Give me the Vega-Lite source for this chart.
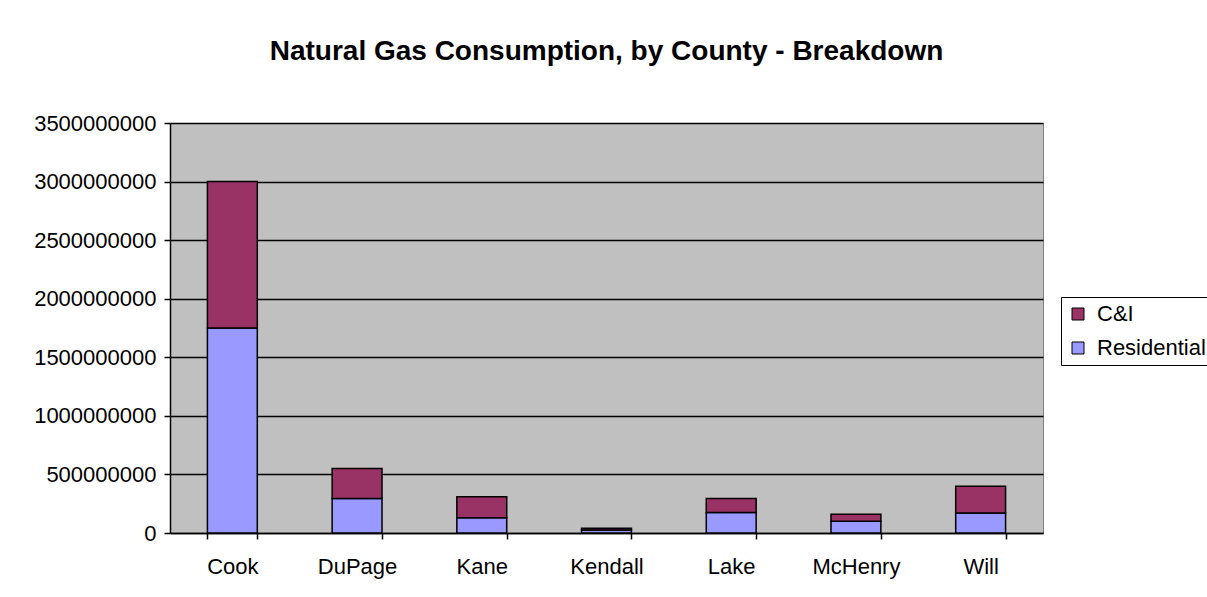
{
  "$schema": "https://vega.github.io/schema/vega-lite/v6.json",
  "autosize": "none",
  "width": 873,
  "height": 410,
  "padding": {"left": 170, "top": 123, "right": 164, "bottom": 64},
  "background": "white",
  "title": {
    "text": "Natural Gas Consumption, by County - Breakdown",
    "font": "Liberation Sans",
    "fontSize": 28,
    "fontWeight": "bold",
    "color": "black",
    "anchor": "middle",
    "frame": "group",
    "offset": 46
  },
  "data": {
    "values": [
      {"county": "Cook", "type": "Residential", "value": 1750000000},
      {"county": "Cook", "type": "C&I", "value": 1250000000},
      {"county": "DuPage", "type": "Residential", "value": 295000000},
      {"county": "DuPage", "type": "C&I", "value": 255000000},
      {"county": "Kane", "type": "Residential", "value": 130000000},
      {"county": "Kane", "type": "C&I", "value": 180000000},
      {"county": "Kendall", "type": "Residential", "value": 25000000},
      {"county": "Kendall", "type": "C&I", "value": 15000000},
      {"county": "Lake", "type": "Residential", "value": 175000000},
      {"county": "Lake", "type": "C&I", "value": 120000000},
      {"county": "McHenry", "type": "Residential", "value": 100000000},
      {"county": "McHenry", "type": "C&I", "value": 60000000},
      {"county": "Will", "type": "Residential", "value": 170000000},
      {"county": "Will", "type": "C&I", "value": 230000000}
    ]
  },
  "mark": {"type": "bar", "stroke": "black", "strokeWidth": 1.5},
  "encoding": {
    "x": {
      "field": "county",
      "type": "nominal",
      "sort": null,
      "scale": {"paddingInner": 0.6, "paddingOuter": 0.3},
      "axis": {
        "title": null,
        "labelAngle": 0,
        "labelFont": "Liberation Sans",
        "labelFontSize": 22,
        "labelColor": "black",
        "labelPadding": 17,
        "tickBand": "extent",
        "tickColor": "black",
        "tickSize": 6,
        "tickWidth": 1.5,
        "domainColor": "black",
        "domainWidth": 1.5,
        "grid": false
      }
    },
    "y": {
      "field": "value",
      "type": "quantitative",
      "stack": "zero",
      "scale": {"domain": [0, 3500000000], "nice": false},
      "axis": {
        "title": null,
        "values": [0, 500000000, 1000000000, 1500000000, 2000000000, 2500000000, 3000000000, 3500000000],
        "format": "d",
        "labelFont": "Liberation Sans",
        "labelFontSize": 22,
        "labelColor": "black",
        "labelPadding": 8,
        "tickColor": "black",
        "tickSize": 6,
        "tickWidth": 1.5,
        "domainColor": "black",
        "domainWidth": 1.5,
        "grid": true,
        "gridColor": "black",
        "gridWidth": 1.5,
        "gridOpacity": 1
      }
    },
    "color": {
      "field": "type",
      "type": "nominal",
      "scale": {"domain": ["C&I", "Residential"], "range": ["#993366", "#9999FF"]},
      "legend": {
        "title": null,
        "orient": "none",
        "legendX": 891,
        "legendY": 174,
        "symbolType": "square",
        "symbolSize": 144,
        "symbolStrokeColor": "black",
        "symbolStrokeWidth": 1,
        "symbolOpacity": 1,
        "labelFont": "Liberation Sans",
        "labelFontSize": 22,
        "labelColor": "black",
        "labelOffset": 8,
        "rowPadding": 12,
        "padding": 6,
        "strokeColor": "black",
        "fillColor": "white"
      }
    },
    "order": {"field": "type", "sort": "descending"}
  },
  "config": {
    "view": {"fill": "#C0C0C0", "stroke": "#808080", "strokeWidth": 1}
  }
}
